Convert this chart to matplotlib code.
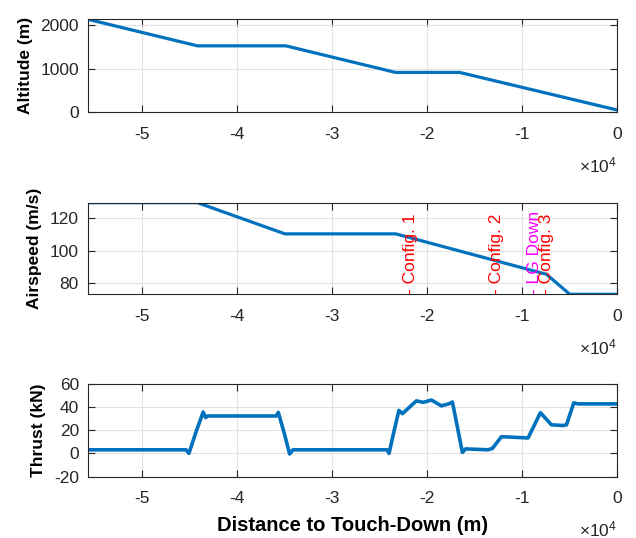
import matplotlib
matplotlib.use("Agg")
import matplotlib.pyplot as plt
from matplotlib.ticker import FuncFormatter

plt.rcParams['font.family'] = ['Liberation Sans', 'DejaVu Sans']
plt.rcParams['axes.unicode_minus'] = False
plt.rcParams['mathtext.fontset'] = 'custom'
plt.rcParams['mathtext.rm'] = 'Liberation Sans'
plt.rcParams['mathtext.it'] = 'Liberation Sans:italic'
plt.rcParams['mathtext.bf'] = 'Liberation Sans:bold'

# altitude profile
alt_x = [-55750, -44200, -34900, -23350, -16600, 0]
alt = [2134, 1524, 1524, 914, 914, 50]

# airspeed profile
spd_x = [-55750, -44200, -35000, -23340, -7470, -5020, 0]
spd = [129.6, 129.6, 110.4, 110.4, 85.5, 73.2, 73.2]

# thrust history (kN)
thr_x = [-55750, -45400, -45100, -44300, -43600, -43340, -43100, -35900, -35700,
         -35100, -34500, -34150, -24250, -24040, -23500, -23000, -22630, -21860,
         -21160, -20460, -19580, -18530, -17650, -17370, -16880, -16320, -15970,
         -13620, -13160, -12210, -9410, -8110, -6950, -5730, -5370, -4600, -4150, 0]
thr = [3.1, 3.1, 0.0, 19.7, 35.6, 30.8, 32.2, 32.2, 35.3,
       18.3, -0.5, 3.1, 3.1, 0.0, 19.7, 37.0, 34.2, 40.0,
       45.2, 43.9, 45.9, 40.9, 42.9, 44.2, 24.0, 0.9, 3.9,
       3.1, 4.3, 14.4, 13.3, 35.0, 24.6, 24.0, 24.6, 43.5, 42.6, 42.6]

# event markers
evt_x = [-21760, -12740, -8700, -7470]
evt_txt = ['- Config. 1', '- Config. 2', '- LG Down', '- Config. 3']
evt_col = ['#ff0000', '#ff0000', '#ff00ff', '#ff0000']

blue = '#0072bd'
dark = '#262626'
fs = 12.5

fig = plt.figure(figsize=(6.36, 5.38), dpi=100)
ax1 = fig.add_axes([0.1379, 0.7913, 0.833, 0.1729])
ax2 = fig.add_axes([0.1379, 0.4530, 0.833, 0.1703])
ax3 = fig.add_axes([0.1379, 0.1140, 0.833, 0.1729])

ax1.plot(alt_x, alt, color=blue, lw=2.3)
ax2.plot(spd_x, spd, color=blue, lw=2.3)
ax3.plot(thr_x, thr, color=blue, lw=2.6, solid_joinstyle='round')

ax1.set_ylim(0, 2134)
ax1.set_yticks([0, 1000, 2000])
ax2.set_ylim(73.2, 129.6)
ax2.set_yticks([80, 100, 120])
ax3.set_ylim(-20, 60)
ax3.set_yticks([-20, 0, 20, 40, 60])

for xe, t, c in zip(evt_x, evt_txt, evt_col):
    ax2.text(xe, 73.2, t, rotation=90, color=c, fontsize=fs, ha='center', va='bottom')

ax1.set_ylabel('Altitude (m)', fontsize=fs, fontweight='bold', labelpad=5.5)
ax2.set_ylabel('Airspeed (m/s)', fontsize=fs, fontweight='bold', labelpad=5.5)
ax3.set_ylabel('Thrust (kN)', fontsize=fs, fontweight='bold', labelpad=5.5)
ax3.set_xlabel('Distance to Touch-Down (m)', fontsize=14.5, fontweight='bold', labelpad=7)

for ax in [ax1, ax2, ax3]:
    ax.set_xlim(-55750, 0)
    ax.set_xticks([-50000, -40000, -30000, -20000, -10000, 0])
    ax.xaxis.set_major_formatter(FuncFormatter(lambda v, p: '%g' % (v / 1e4)))
    ax.grid(True, color='#e2e2e2', lw=0.8)
    ax.set_axisbelow(True)
    for s in ax.spines.values():
        s.set_color(dark)
        s.set_linewidth(0.8)
    ax.tick_params(direction='in', length=5, width=0.8, color=dark, labelcolor=dark,
                   labelsize=fs, top=True, right=True)
    ax.tick_params(axis='x', pad=10.5)
    ax.tick_params(axis='y', pad=6.3)
    ax.annotate(r'$\times10^{4}$', xy=(1, 0), xycoords='axes fraction',
                xytext=(0, -43), textcoords='offset points',
                ha='right', va='baseline', fontsize=fs, color=dark)

fig.savefig('out.png', dpi=100)
